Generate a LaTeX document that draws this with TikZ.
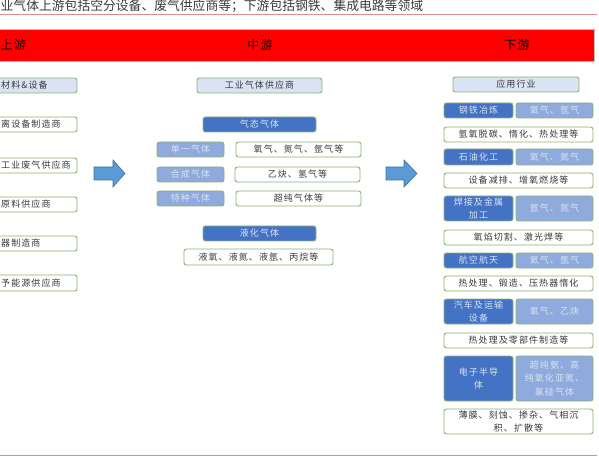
\documentclass[tikz,border=0pt]{standalone}
\usepackage{fontspec}
\newfontfamily\cjk[LetterSpace=12]{Noto Sans CJK SC}
\newfontfamily\cjkt{Noto Sans CJK SC}
\definecolor{grn}{HTML}{8DB173}
\definecolor{dkb}{HTML}{4472C4}
\definecolor{mdb}{HTML}{8FAADC}
\definecolor{ltb}{HTML}{DAE3F3}
\definecolor{pnk}{HTML}{E38B8D}
\definecolor{arf}{HTML}{5B9BD5}
\definecolor{ard}{HTML}{41719C}
\definecolor{txt}{HTML}{3A3A3A}
\tikzset{
  base/.style={rounded corners=2.5pt, draw=grn, line width=0.9pt, inner sep=1pt, align=center, font=\cjk\fontsize{9}{13.5}\selectfont},
  wbox/.style={base, fill=white, text=txt},
  lbox/.style={base, fill=ltb, text=txt},
  dbox/.style={base, fill=dkb, text=ltb},
  mbox/.style={base, fill=mdb, text=ltb},
  ltxt/.style={anchor=west, inner sep=0pt, text=txt, font=\cjk\fontsize{9}{13.5}\selectfont},
  band/.style={inner sep=0pt, font=\cjk\fontsize{12}{14}\selectfont, text=black},
  blockarrow/.style={fill=arf, draw=ard, line width=0.6pt}
}
\begin{document}
\begin{tikzpicture}[x=1pt,y=-1pt]
\useasboundingbox (0,0) rectangle (599,462);
\clip (0,0) rectangle (599,462);
% title
\node[anchor=west, inner sep=0pt, font=\cjkt\fontsize{12.8}{14}\selectfont, text=txt] (title) at (0.5,6.5) {业气体上游包括空分设备、废气供应商等；下游包括钢铁、集成电路等领域};
\draw[pnk, line width=1.6pt] (0,14.5) -- (597,14.5);
\draw[pnk, line width=1.6pt] (0,455.5) -- (597,455.5);
% red band
\draw[fill=red, draw=black!25, line width=0.6pt] (-2,29) rectangle (594,61);
\node[band, anchor=west] (up) at (0.5,45) {上游};
\node[band] (mid) at (260,45) {中游};
\node[band] (down) at (517,45) {下游};
% left column
\node[lbox, minimum width=97pt, minimum height=15pt] (l1) at (28.5,85.5) {};
\node[ltxt] (l1t) at (1,85.5) {材料\&设备};
\node[wbox, minimum width=97pt, minimum height=15pt] (l2) at (28.5,124.5) {};
\node[ltxt] (l2t) at (1,124.5) {离设备制造商};
\node[wbox, minimum width=97pt, minimum height=15pt] (l3) at (28.5,165.5) {};
\node[ltxt] (l3t) at (1,165.5) {工业废气供应商};
\node[wbox, minimum width=97pt, minimum height=15pt] (l4) at (28.5,204.5) {};
\node[ltxt] (l4t) at (1,204.5) {原料供应商};
\node[wbox, minimum width=97pt, minimum height=15pt] (l5) at (28.5,243.5) {};
\node[ltxt] (l5t) at (1,243.5) {器制造商};
\node[wbox, minimum width=97pt, minimum height=16pt] (l6) at (28.5,283) {};
\node[ltxt] (l6t) at (1,283) {予能源供应商};
% arrows
\draw[blockarrow] (94,167) -- (113,167) -- (113,160) -- (125,173.5) -- (113,187) -- (113,180) -- (94,180) -- cycle;
\draw[blockarrow] (386,167) -- (404,167) -- (404,160) -- (417,173.5) -- (404,187) -- (404,180) -- (386,180) -- cycle;
% middle column
\node[lbox, minimum width=125pt, minimum height=15pt] (mh) at (259.5,85.5) {工业气体供应商};
\node[dbox, minimum width=113pt, minimum height=15pt] (gas) at (259.5,124.5) {气态气体};
\node[mbox, minimum width=67pt, minimum height=15pt] (s1) at (190.5,149.5) {单一气体};
\node[wbox, minimum width=125pt, minimum height=15pt] (w1) at (298.5,149.5) {氧气、氮气、氩气等};
\node[mbox, minimum width=67pt, minimum height=15pt] (s2) at (190.5,174.5) {合成气体};
\node[wbox, minimum width=125pt, minimum height=15pt] (w2) at (297.5,174.5) {乙炔、氢气等};
\node[mbox, minimum width=67pt, minimum height=15pt] (s3) at (190.5,198.5) {特种气体};
\node[wbox, minimum width=125pt, minimum height=15pt] (w3) at (298.5,198.5) {超纯气体等};
\node[dbox, minimum width=113pt, minimum height=15pt] (liq) at (259.5,233.5) {液化气体};
\node[wbox, minimum width=149pt, minimum height=16pt] (lq) at (258.5,257) {液氧、液氮、液氩、丙烷等};
% right column
\node[lbox, minimum width=126pt, minimum height=15pt] (rh) at (516,84.5) {应用行业};
\node[dbox, minimum width=69pt, minimum height=15pt] (r1a) at (478.5,110.5) {钢铁冶炼};
\node[mbox, minimum width=77pt, minimum height=15pt] (r1b) at (554.5,110.5) {氧气、氩气};
\node[wbox, minimum width=149pt, minimum height=15pt] (t1) at (518.5,134.5) {氩氧脱碳、惰化、热处理等};
\node[dbox, minimum width=69pt, minimum height=16pt] (r2a) at (478.5,157) {石油化工};
\node[mbox, minimum width=77pt, minimum height=16pt] (r2b) at (554.5,157) {氧气、氮气};
\node[wbox, minimum width=149pt, minimum height=15pt] (t2) at (518.5,180.5) {设备减排、增氧燃烧等};
\node[dbox, minimum width=69pt, minimum height=25pt] (r3a) at (478.5,208.5) {焊接及金属\\加工};
\node[mbox, minimum width=77pt, minimum height=25pt] (r3b) at (554.5,208.5) {氩气、氮气};
\node[wbox, minimum width=149pt, minimum height=15pt] (t3) at (518.5,237.5) {氧焰切割、激光焊等};
\node[dbox, minimum width=69pt, minimum height=15pt] (r4a) at (478.5,260.5) {航空航天};
\node[mbox, minimum width=77pt, minimum height=15pt] (r4b) at (554.5,260.5) {氦气、氩气};
\node[wbox, minimum width=149pt, minimum height=15pt] (t4) at (518.5,283.5) {热处理、锻造、压热器惰化};
\node[dbox, minimum width=69pt, minimum height=25pt] (r5a) at (478.5,311.5) {汽车及运输\\设备};
\node[mbox, minimum width=77pt, minimum height=25pt] (r5b) at (554.5,311.5) {氧气、乙炔};
\node[wbox, minimum width=149pt, minimum height=15pt] (t5) at (518.5,340.5) {热处理及零部件制造等};
\node[dbox, minimum width=69pt, minimum height=45pt] (r6a) at (478.5,378.5) {电子半导\\体};
\node[mbox, minimum width=77pt, minimum height=45pt] (r6b) at (554.5,378.5) {超纯氨、高\\纯氧化亚氮、\\氯硅气体};
\node[wbox, minimum width=149pt, minimum height=25pt] (t6) at (518.5,421.5) {薄膜、刻蚀、掺杂、气相沉\\积、扩散等};
\end{tikzpicture}
\end{document}
